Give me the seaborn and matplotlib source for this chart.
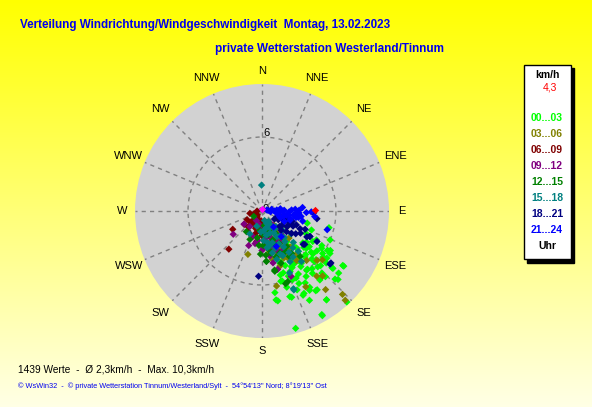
import numpy as np
import pandas as pd
import seaborn as sns
import matplotlib.pyplot as plt
from matplotlib.patches import Rectangle

# wind direction (deg, from north clockwise) and speed (km/h), one list per 3-hour bin
h00_03 = [(104, 5.6), (120, 6.4), (124, 7.9), (132, 8.3), (137, 10.2), (144, 8.9), (150, 9.8),
          (164, 9.9), (152, 8.2), (162, 7.3), (171, 7.3), (171, 6.7), (165, 5.9), (105, 3.8),
          (129, 6.7), (136, 7.0), (146, 7.8), (153, 7.5), (150, 5.9), (132, 5.9), (127, 4.8),
          (150, 4.6), (156, 6.1), (146, 6.4), (125, 6.0), (121, 4.8), (145, 5.5), (161, 5.3),
          (148, 7.3), (156, 7.0), (140, 7.3), (113, 6.0), (111, 4.3), (140, 4.5), (135, 5.0),
          (142, 6.0), (130, 5.2), (128, 4.2), (138, 3.8), (147, 4.0), (133, 6.5), (126, 5.5),
          (118, 5.0), (143, 4.9), (152, 5.2), (158, 5.7), (139, 6.2), (134, 5.6), (149, 6.8),
          (154, 3.9), (160, 4.4), (131, 4.5), (137, 4.1), (144, 3.5), (122, 5.7), (129, 7.4),
          (120, 5.6), (121, 6.2), (122, 6.5), (127, 6.2), (134, 5.9), (137, 5.1), (143, 5.3),
          (143, 6.0), (141, 6.5), (139, 7.2), (136, 7.4), (133, 8.1), (124, 8.0), (129, 8.0),
          (129, 7.3), (148, 5.0), (155, 5.4), (164, 5.4), (164, 5.9), (162, 6.5), (161, 7.4),
          (170, 7.4), (154, 7.6), (149, 7.5), (145, 7.8), (144, 8.9), (150, 9.7), (153, 6.6),
          (153, 6.1), (152, 5.1), (135, 6.4), (130, 5.4), (126, 6.5), (130, 4.7), (138, 4.4),
          (147, 3.6), (161, 4.5), (157, 4.8), (151, 4.2), (141, 3.2), (125, 4.4), (117, 4.0)]
h03_06 = [(136, 9.4), (137, 9.9), (141, 8.2), (129, 6.3), (198, 3.7), (169, 6.2), (162, 4.7),
          (142, 3.7), (145, 4.9), (163, 2.2), (173, 2.9), (138, 5.4), (122, 2.4), (140, 6.9),
          (161, 3.6), (150, 3.0), (155, 4.2), (147, 2.6), (158, 1.6), (166, 3.3), (152, 3.9),
          (144, 2.1), (135, 3.1), (168, 4.0), (137, 7.2), (132, 6.0), (150, 7.1), (151, 4.4),
          (140, 1.5), (157, 2.8), (148, 3.4), (132, 2.0), (160, 1.0), (142, 4.5), (170, 3.4),
          (155, 3.3), (165, 2.6), (150, 4.1), (160, 3.9), (145, 3.8)]
h06_09 = [(238, 2.8), (221, 4.1), (259, 1.0), (224, 1.0), (221, 1.7), (223, 0.6), (202, 2.2),
          (191, 1.6), (240, 1.4), (174, 1.0), (210, 1.3), (230, 0.5), (250, 0.7), (196, 1.9),
          (215, 2.0), (205, 1.0), (185, 0.8), (233, 1.8), (270, 0.4), (180, 2.0), (200, 1.5),
          (212, 0.7), (190, 2.5), (226, 1.3)]
h09_12 = [(234, 1.8), (231, 3.0), (201, 3.0), (192, 2.7), (168, 4.3), (156, 5.8), (218, 1.6),
          (211, 0.9), (168, 1.9), (159, 3.4), (175, 2.5), (150, 2.1), (163, 3.0), (185, 1.4),
          (145, 1.2), (170, 3.7), (155, 2.6), (200, 2.2), (160, 1.4), (180, 3.2), (152, 3.6),
          (195, 1.1), (140, 2.4), (165, 4.9), (172, 2.2), (162, 2.3), (150, 2.9), (178, 3.0),
          (188, 2.4)]
h12_15 = [(168, 5.0), (217, 2.1), (175, 4.1), (162, 6.2), (149, 4.3), (203, 2.5), (186, 1.6),
          (159, 2.5), (157, 3.7), (140, 4.8), (237, 0.8), (170, 3.2), (165, 2.0), (152, 3.0),
          (178, 2.8), (145, 3.5), (160, 4.5), (190, 2.2), (172, 1.2), (150, 1.6), (160, 6.1),
          (168, 4.9), (175, 4.1), (155, 1.0), (142, 2.7), (163, 3.9), (148, 2.2), (182, 3.5),
          (175, 3.6), (168, 3.5), (158, 3.0), (150, 3.8), (185, 2.8), (162, 1.7), (178, 1.9),
          (145, 4.2)]
h15_18 = [(359, 2.1), (158, 6.9), (163, 4.1), (149, 3.4), (160, 1.9), (159, 1.1), (142, 5.2),
          (208, 2.1), (199, 1.3), (150, 2.4), (156, 5.5), (177, 2.4), (145, 1.8), (140, 2.8),
          (153, 3.0), (166, 3.5), (170, 2.0), (147, 4.0), (135, 3.6), (162, 2.7), (155, 1.5),
          (138, 4.4), (183, 1.7), (151, 4.7), (158, 6.8), (143, 3.1), (133, 2.3), (165, 1.4),
          (157, 3.8), (146, 4.5), (172, 3.0), (152, 2.0), (138, 1.7), (128, 3.0), (165, 0.8),
          (150, 1.2), (170, 2.6), (160, 3.2), (145, 2.5), (175, 1.6), (155, 4.0), (140, 3.9),
          (168, 2.9), (148, 1.0)]
h18_21 = [(98, 4.5), (92, 4.2), (118, 4.4), (119, 5.1), (128, 7.0), (183, 5.3), (115, 3.4),
          (120, 4.2), (114, 2.5), (99, 2.8), (113, 1.9), (111, 1.3), (127, 3.0), (129, 4.3),
          (131, 1.9), (110, 2.2), (116, 2.8), (122, 2.4), (108, 1.6), (125, 2.0), (118, 1.5),
          (112, 3.0), (124, 3.3), (105, 2.0), (120, 3.6), (130, 2.6), (117, 2.0), (109, 2.6),
          (127, 7.0), (118, 4.4), (128, 4.4), (123, 1.2), (135, 2.2), (113, 3.8)]
h21_24 = [(92, 3.6), (94, 2.8), (88, 2.4), (92, 1.7), (86, 1.2), (95, 0.7), (98, 3.2), (99, 2.2),
          (106, 5.5), (78, 0.4), (108, 1.5), (108, 2.4), (144, 1.6), (143, 2.6), (158, 3.1),
          (85, 0.5), (90, 1.0), (95, 1.4), (88, 1.8), (92, 2.2), (97, 2.6), (100, 3.0), (85, 3.3),
          (102, 1.8), (105, 2.4), (98, 1.2), (80, 0.8), (110, 1.6), (115, 2.0), (93, 3.0),
          (87, 2.7), (100, 2.0), (104, 3.4), (91, 4.0), (96, 4.3), (89, 3.0), (83, 1.5), (101, 2.8)]
current = [(89, 4.3)]
now_mark = [(10, 0.15)]

bins = ["00...03", "03...06", "06...09", "09...12", "12...15", "15...18", "18...21", "21...24"]
bin_data = [h00_03, h03_06, h06_09, h09_12, h12_15, h15_18, h18_21, h21_24]
bin_colors = ["#00ff00", "#808000", "#800000", "#800080", "#008000", "#008080", "#000080", "#0000ff"]

compass = ["N", "NNE", "NE", "ENE", "E", "ESE", "SE", "SSE",
           "S", "SSW", "SW", "WSW", "W", "WNW", "NW", "NNW"]
rmax = 10.3

rows = []
for name, pts in zip(bins, bin_data):
    for d, s in pts:
        rows.append({"theta": np.deg2rad(d), "speed": s, "hour": name})
df = pd.DataFrame(rows)

fig = plt.figure(figsize=(5.92, 4.07), dpi=100)

# yellow gradient background
bg = fig.add_axes([0, 0, 1, 1])
grad = np.linspace(0, 1, 256)[:, None]
top = np.array([1.0, 1.0, 0.0])
bot = np.array([1.0, 1.0, 0.90])
img = top[None, None, :] * (1 - grad[:, :, None]) + bot[None, None, :] * grad[:, :, None]
bg.imshow(img, aspect="auto", extent=[0, 1, 0, 1])
bg.set_xlim(0, 1)
bg.set_ylim(0, 1)
bg.axis("off")

# polar plot
cx, cy, rad = 262 / 592, 1 - 211 / 407, 127
ax = fig.add_axes([cx - rad / 592, cy - rad / 407, 2 * rad / 592, 2 * rad / 407], projection="polar")
ax.set_theta_zero_location("N")
ax.set_theta_direction(-1)
ax.set_facecolor("#d2d2d2")
ax.spines["polar"].set_visible(False)
ax.set_ylim(0, rmax)
ax.set_thetagrids(np.arange(0, 360, 22.5), labels=[])
ax.set_rgrids([6], labels=[])
ax.grid(color="#808080", linestyle=(0, (3, 3)), linewidth=1)

for i, lab in enumerate(compass):
    rr = 11.35 if i % 4 == 0 else 11.7
    ax.text(np.deg2rad(i * 22.5), rr, lab, ha="center", va="center", fontsize=8,
            family="Liberation Sans", clip_on=False)
ax.text(np.deg2rad(3), 6.35, "6", ha="center", va="center", fontsize=8, family="Liberation Sans")
ax.text(np.deg2rad(60), 0.35, "0", ha="center", va="center", fontsize=8, family="Liberation Sans")

sns.scatterplot(data=df, x="theta", y="speed", hue="hour", hue_order=bins,
                palette=dict(zip(bins, bin_colors)), marker="D", s=14, linewidth=0,
                legend=False, ax=ax, zorder=5)
ax.scatter(np.deg2rad([p[0] for p in current]), [p[1] for p in current],
           marker="D", s=14, color="#ff0000", linewidth=0, zorder=6)
ax.scatter(np.deg2rad([p[0] for p in now_mark]), [p[1] for p in now_mark],
           marker="D", s=14, color="#ff00ff", linewidth=0, zorder=6)
ax.set_xlabel("")
ax.set_ylabel("")

# titles
fig.text(20 / 592, 1 - 25 / 407, "Verteilung Windrichtung/Windgeschwindigkeit  Montag, 13.02.2023",
         color="#0000ee", fontsize=8.4, fontweight="bold", family="Liberation Sans", va="center")
fig.text(215 / 592, 1 - 49 / 407, "private Wetterstation Westerland/Tinnum",
         color="#0000ee", fontsize=8.5, fontweight="bold", family="Liberation Sans", va="center")

# legend box
bg.add_patch(Rectangle((527 / 592, 1 - 263 / 407), 47 / 592, 195 / 407, color="black", zorder=2))
bg.add_patch(Rectangle((524 / 592, 1 - 259 / 407), 47 / 592, 194 / 407, facecolor="white",
                       edgecolor="black", linewidth=1, zorder=3))
lx = 547 / 592
fig.text(lx, 1 - 75.5 / 407, "km/h", ha="center", va="center", fontsize=7.5, fontweight="bold",
         family="Liberation Sans")
fig.text(550 / 592, 1 - 87 / 407, "4,3", ha="center", va="center", fontsize=7.5, color="#ff0000",
         family="Liberation Sans")
for j, (name, col) in enumerate(zip(bins, bin_colors)):
    fig.text(lx, 1 - (117.7 + 16 * j) / 407, name, ha="center", va="center", fontsize=7.5,
             fontweight="bold", color=col, family="Liberation Sans")
fig.text(lx, 1 - 245.7 / 407, "Uhr", ha="center", va="center", fontsize=7.5, fontweight="bold",
         family="Liberation Sans")

# footer
fig.text(18 / 592, 1 - 369 / 407, "1439 Werte  -  \u00d8 2,3km/h  -  Max. 10,3km/h",
         fontsize=7.3, va="center", family="Liberation Sans")
fig.text(18 / 592, 1 - 386 / 407,
         "\u00a9 WsWin32  -  \u00a9 private Wetterstation Tinnum/Westerland/Sylt  -  54\u00b054'13'' Nord; 8\u00b019'13'' Ost",
         fontsize=5.3, color="#0000ee", va="center", family="Liberation Sans")

fig.savefig("out.png", dpi=100)
